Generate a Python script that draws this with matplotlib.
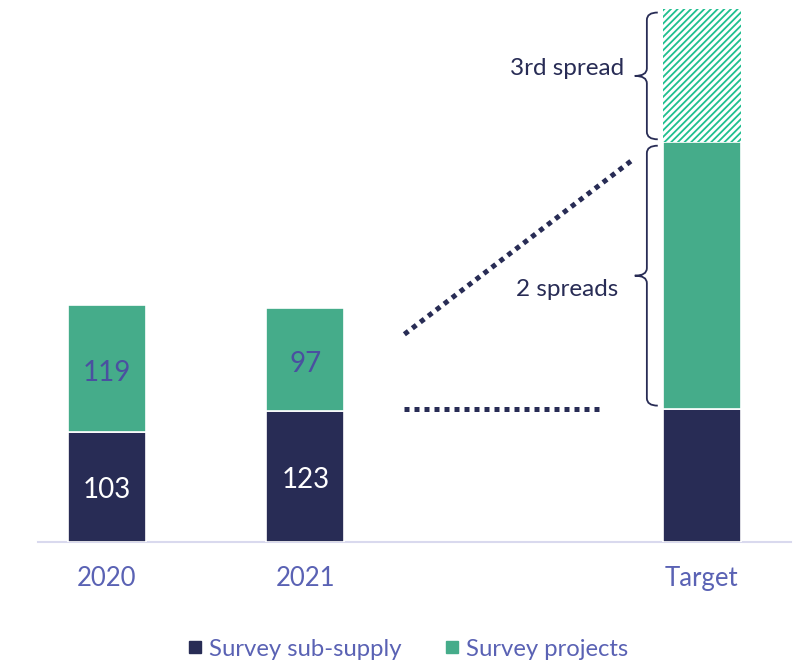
import matplotlib.pyplot as plt
from matplotlib.path import Path
from matplotlib.patches import PathPatch
from matplotlib.lines import Line2D

# data
categories = ['2020', '2021', 'Target']
positions = [0, 1, 3]
sub_supply = [103, 123, 125]
projects = [119, 97, 250]
third_spread = 125          # hatched top of the target bar
show_values = [True, True, False]

NAVY = '#282c55'
GREEN = '#45ac8a'
HATCH_GREEN = '#1fbf8f'
LABEL_BLUE = '#5a62b4'
AXIS_LINE = '#d9d9ee'

plt.rcParams['hatch.linewidth'] = 1.3

fig = plt.figure(figsize=(7.94, 6.62), dpi=100)
ax = fig.add_axes([37.6 / 794, 120 / 662, (791 - 37.6) / 794, 538 / 662])

width = 0.393
ax.bar(positions, sub_supply, width, color=NAVY, edgecolor='white', linewidth=1.2,
       label='Survey sub-supply', zorder=3)
ax.bar(positions, projects, width, bottom=sub_supply, color=GREEN, edgecolor='white',
       linewidth=1.2, label='Survey projects', zorder=3)
ax.bar(positions[-1], third_spread, width, bottom=sub_supply[-1] + projects[-1],
       color='white', edgecolor=HATCH_GREEN, linewidth=0, hatch='/////', zorder=3)

for p, s, q, show in zip(positions, sub_supply, projects, show_values):
    if not show:
        continue
    ax.text(p, s / 2 - 3, str(s), ha='center', va='center', color='white',
            fontsize=20, family='Lato')
    ax.text(p, s + q / 2 - 4, str(q), ha='center', va='center', color='#4a50a0',
            fontsize=20, family='Lato')

# dotted guide lines
target_sub = sub_supply[-1]
ax.plot([1.5, 2.5], [target_sub, target_sub], color=NAVY, lw=3.6,
        linestyle=(0, (1, 1)), dash_capstyle='butt', zorder=2)
ax.plot([1.5, 2.66], [195, 360], color=NAVY, lw=3.6,
        linestyle=(0, (1, 1)), dash_capstyle='butt', zorder=2)


def brace(y0, y1, x_line=2.723, x_hook=2.778, x_tip=2.662, ry=7.0):
    ym = (y0 + y1) / 2
    verts = [
        (x_hook, y1), (x_line, y1), (x_line, y1 - ry),
        (x_line, ym + ry),
        (x_line, ym), (x_tip, ym),
        (x_line, ym), (x_line, ym - ry),
        (x_line, y0 + ry),
        (x_line, y0), (x_hook, y0),
    ]
    codes = [Path.MOVETO, Path.CURVE3, Path.CURVE3, Path.LINETO,
             Path.CURVE3, Path.CURVE3, Path.CURVE3, Path.CURVE3,
             Path.LINETO, Path.CURVE3, Path.CURVE3]
    ax.add_patch(PathPatch(Path(verts, codes), fill=False, edgecolor=NAVY,
                           lw=1.3, zorder=4))


top2 = target_sub + projects[-1]
brace(top2 + 3, top2 + third_spread - 3)
brace(target_sub + 3, top2 - 3)

ax.text(2.32, 444, '3rd spread', ha='center', va='center', color=NAVY,
        fontsize=17.5, family='Lato')
ax.text(2.32, 237, '2 spreads', ha='center', va='center', color=NAVY,
        fontsize=17.5, family='Lato')

ax.set_xlim(-0.35, 3.45)
ax.set_ylim(0, 505)
ax.set_xticks(positions)
ax.set_xticklabels(categories, fontsize=18.5, color=LABEL_BLUE, family='Lato')
ax.tick_params(axis='x', length=0, pad=17)
ax.set_yticks([])
for side in ['top', 'right', 'left']:
    ax.spines[side].set_visible(False)
ax.spines['bottom'].set_color(AXIS_LINE)
ax.spines['bottom'].set_linewidth(1.5)

handles = [Line2D([], [], marker='s', color='none', markerfacecolor=c,
                  markeredgecolor=c, markersize=8) for c in (NAVY, GREEN)]
leg = fig.legend(handles, ['Survey sub-supply', 'Survey projects'], loc='center',
                 bbox_to_anchor=(0.514, 13 / 662), ncol=2, frameon=False,
                 handlelength=0.6, handletextpad=0.3, columnspacing=1.8,
                 prop={'family': 'Lato', 'size': 17.2})
for t in leg.get_texts():
    t.set_color(LABEL_BLUE)

fig.savefig('out.png', dpi=100)
